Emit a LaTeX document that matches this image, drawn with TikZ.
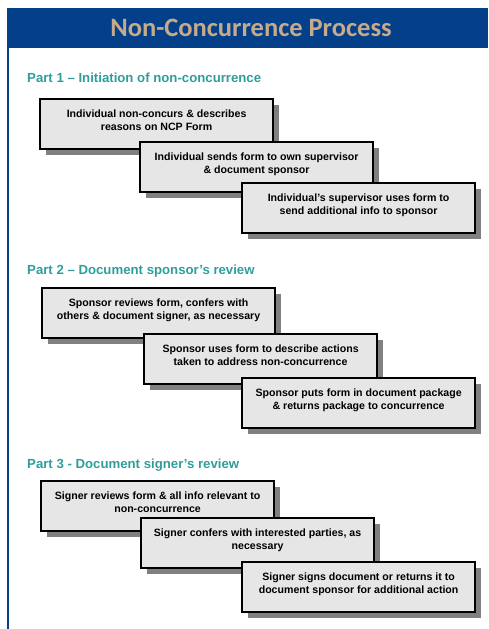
\documentclass[tikz,border=0pt]{standalone}
\usepackage{fontspec}
\setmainfont{Liberation Sans}
\newfontfamily\titlefont{Carlito}
\usetikzlibrary{shadows}
\definecolor{hdrblue}{HTML}{043F8A}
\definecolor{titletan}{HTML}{C6AA8A}
\definecolor{partteal}{HTML}{2E9E9C}
\definecolor{boxgray}{HTML}{E6E6E6}
\definecolor{shadowgray}{HTML}{808080}
\tikzset{
  stepbox/.style={draw=black, line width=2.2pt, fill=boxgray, anchor=north west, inner sep=0pt,
    drop shadow={shadow xshift=6pt, shadow yshift=-6pt, fill=shadowgray, opacity=1}},
  parttitle/.style={anchor=west, text=partteal, inner sep=0pt,
    font=\bfseries\fontsize{13.2}{15}\selectfont},
}
\newcommand{\boxtext}[1]{\parbox[c][50pt][t]{233pt}{\centering\fontsize{10.6}{13}\selectfont\bfseries\rule{0pt}{18.5pt}#1}}
\begin{document}
\begin{tikzpicture}[x=1pt,y=-1pt]
\useasboundingbox (0,0) rectangle (488,629);
\fill[hdrblue] (7,8) rectangle (488,48);
\draw[hdrblue, line width=2pt] (8,48) -- (8,629);
\node[text=titletan, font=\titlefont\bfseries\fontsize{26.5}{30}\selectfont] (title) at (251,28) {Non-Concurrence Process};

\node[parttitle] (p1) at (27,78) {Part 1 -- Initiation of non-concurrence};
\node[stepbox] (b1) at (39,98) {\boxtext{Individual non-concurs \& describes\\reasons on NCP Form}};
\node[stepbox] (b2) at (139,141) {\boxtext{Individual sends form to own supervisor\\\& document sponsor}};
\node[stepbox] (b3) at (241,182) {\boxtext{Individual's supervisor uses form to\\send additional info to sponsor}};

\node[parttitle] (p2) at (27,271) {Part 2 -- Document sponsor's review};
\node[stepbox] (b4) at (41,287) {\boxtext{Sponsor reviews form, confers with\\others \& document signer, as necessary}};
\node[stepbox] (b5) at (143,333) {\boxtext{Sponsor uses form to describe actions\\taken to address non-concurrence}};
\node[stepbox] (b6) at (241,377) {\boxtext{Sponsor puts form in document package\\\& returns package to concurrence}};

\node[parttitle] (p3) at (27,465) {Part 3 - Document signer's review};
\node[stepbox] (b7) at (40,480) {\boxtext{Signer reviews form \& all info relevant to\\non-concurrence}};
\node[stepbox] (b8) at (140,517) {\boxtext{Signer confers with interested parties, as\\necessary}};
\node[stepbox] (b9) at (241,561) {\boxtext{Signer signs document or returns it to\\document sponsor for additional action}};
\end{tikzpicture}
\end{document}
